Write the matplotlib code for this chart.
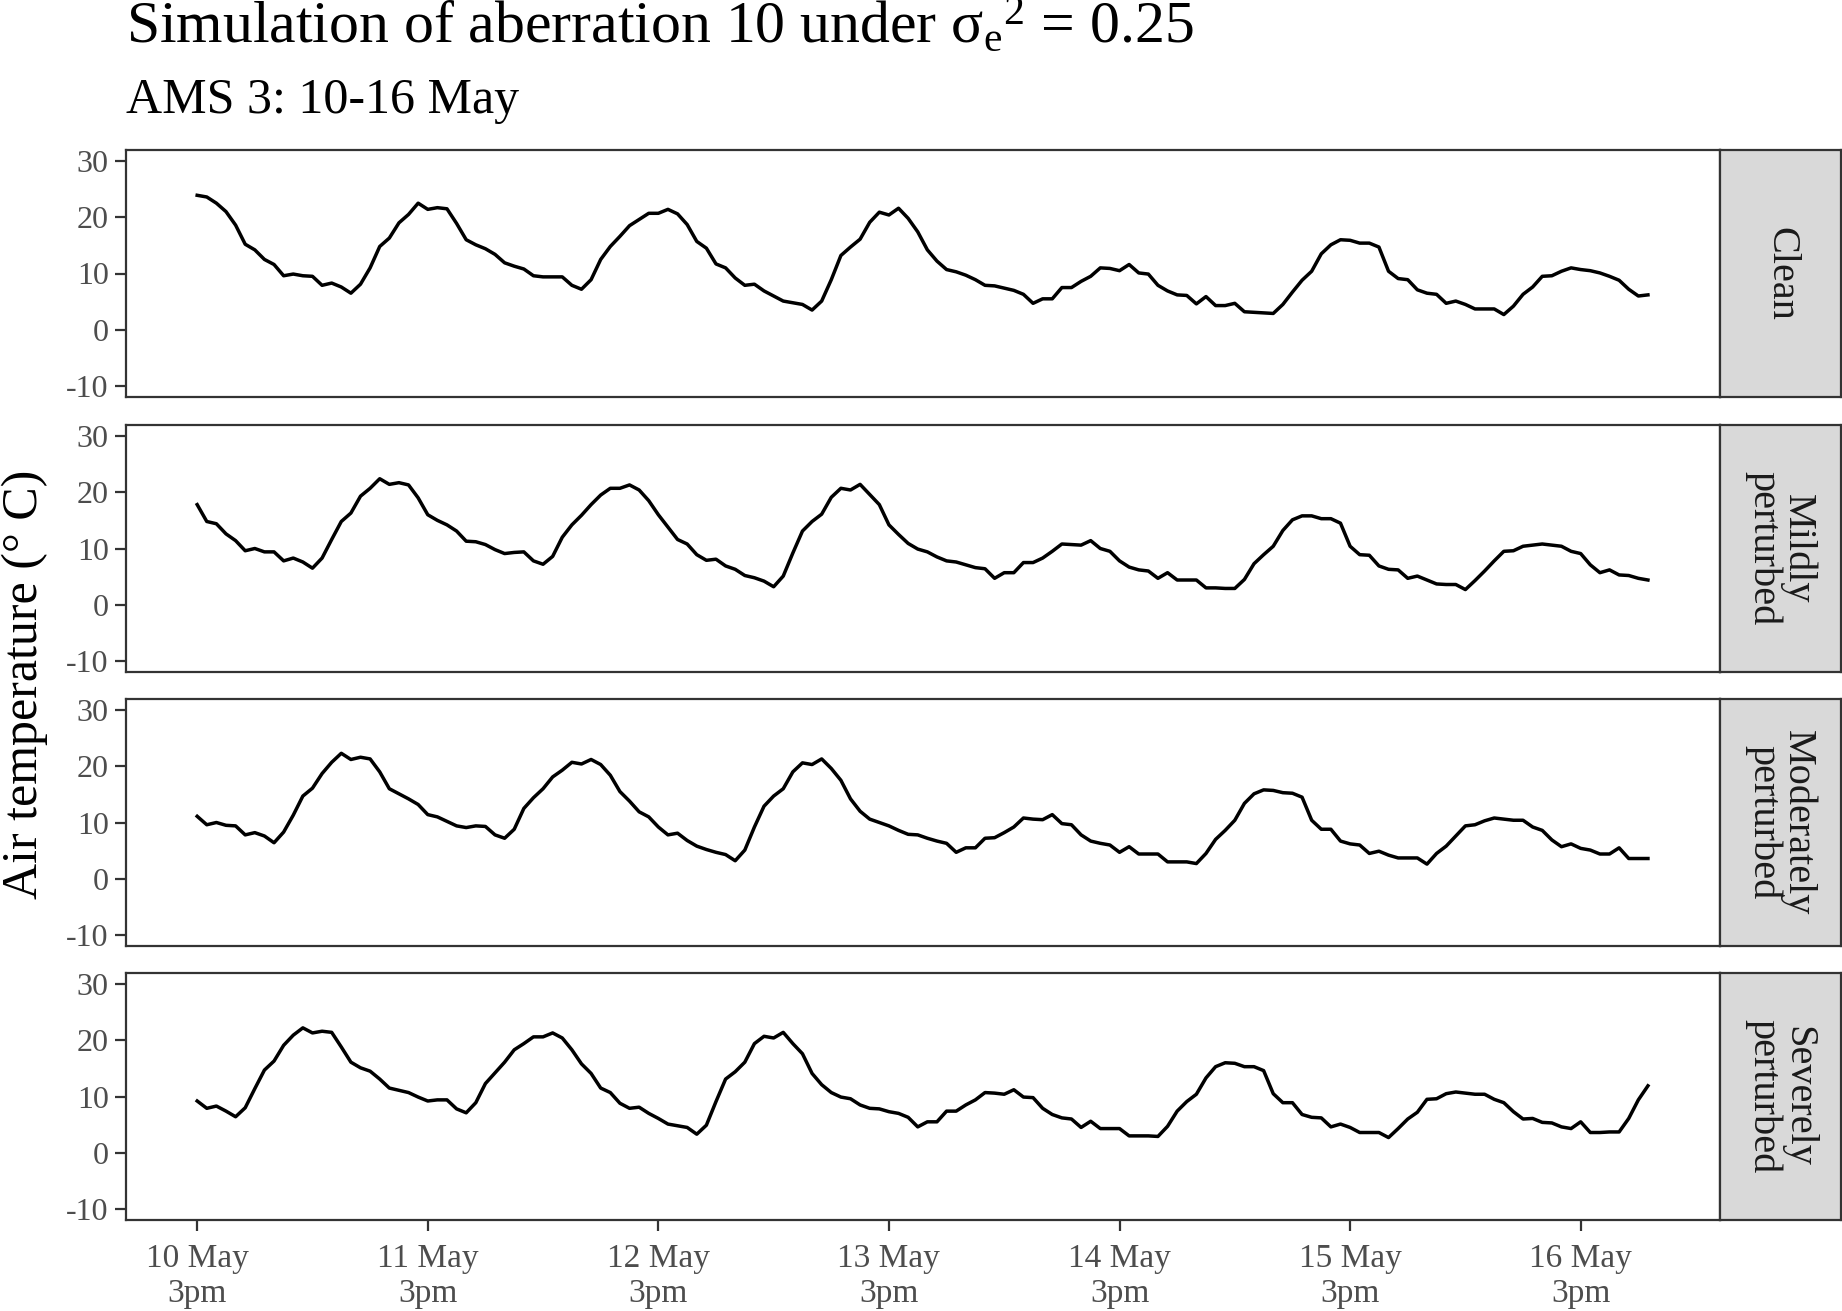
import matplotlib
matplotlib.use("Agg")
import matplotlib.pyplot as plt

plt.rcParams['font.family'] = ['Liberation Serif', 'DejaVu Serif']
plt.rcParams['mathtext.fontset'] = 'custom'
plt.rcParams['mathtext.rm'] = 'Liberation Serif'
plt.rcParams['mathtext.it'] = 'Liberation Serif:italic'
plt.rcParams['axes.unicode_minus'] = False

# hours after 10 May 3pm
hours = list(range(152))

clean = [23.9, 23.6, 22.5, 21.0, 18.6, 15.2, 14.2, 12.5, 11.6, 9.6, 9.9, 9.6,
         9.5, 7.9, 8.3, 7.6, 6.5, 8.1, 11.0, 14.8, 16.3, 19.0, 20.5, 22.5,
         21.4, 21.7, 21.5, 18.9, 16.0, 15.1, 14.4, 13.4, 11.9, 11.3, 10.8, 9.6,
         9.4, 9.4, 9.4, 7.9, 7.2, 8.9, 12.5, 14.8, 16.6, 18.5, 19.6, 20.7,
         20.7, 21.4, 20.6, 18.7, 15.7, 14.5, 11.7, 11.0, 9.2, 7.9, 8.1, 6.9,
         6.0, 5.1, 4.8, 4.5, 3.5, 5.1, 8.9, 13.2, 14.7, 16.1, 19.1, 20.9,
         20.4, 21.6, 19.8, 17.4, 14.2, 12.2, 10.7, 10.3, 9.7, 8.9, 7.9, 7.8,
         7.4, 7.0, 6.3, 4.7, 5.5, 5.5, 7.5, 7.5, 8.6, 9.5, 11.0, 10.9,
         10.5, 11.6, 10.1, 9.9, 7.9, 6.9, 6.2, 6.1, 4.6, 5.9, 4.3, 4.3,
         4.7, 3.2, 3.1, 3.0, 2.9, 4.5, 6.7, 8.8, 10.4, 13.5, 15.1, 16.0,
         15.9, 15.4, 15.4, 14.7, 10.4, 9.1, 8.9, 7.1, 6.5, 6.3, 4.7, 5.1,
         4.5, 3.7, 3.7, 3.7, 2.7, 4.2, 6.3, 7.6, 9.5, 9.6, 10.4, 11.0,
         10.7, 10.5, 10.1, 9.5, 8.8, 7.2, 6.0, 6.2]

mild = [17.8, 14.8, 14.4, 12.6, 11.4, 9.6, 10.0, 9.4, 9.4, 7.8, 8.3, 7.6,
        6.5, 8.3, 11.6, 14.8, 16.3, 19.3, 20.7, 22.4, 21.4, 21.7, 21.3, 19.0,
        16.0, 15.0, 14.2, 13.1, 11.3, 11.2, 10.7, 9.8, 9.1, 9.3, 9.4, 7.8,
        7.2, 8.6, 12.0, 14.2, 15.9, 17.8, 19.5, 20.7, 20.7, 21.3, 20.4, 18.5,
        16.0, 13.8, 11.6, 10.8, 8.9, 7.9, 8.1, 6.9, 6.3, 5.2, 4.8, 4.2,
        3.2, 5.1, 9.2, 13.1, 14.8, 16.1, 19.1, 20.7, 20.4, 21.4, 19.6, 17.8,
        14.2, 12.5, 10.9, 9.9, 9.4, 8.5, 7.8, 7.6, 7.1, 6.6, 6.4, 4.7,
        5.7, 5.7, 7.5, 7.5, 8.3, 9.5, 10.8, 10.7, 10.6, 11.4, 10.0, 9.5,
        7.8, 6.7, 6.2, 6.0, 4.7, 5.7, 4.4, 4.4, 4.4, 3.0, 3.0, 2.9,
        2.9, 4.5, 7.3, 8.9, 10.4, 13.2, 15.1, 15.8, 15.8, 15.3, 15.3, 14.5,
        10.4, 8.9, 8.8, 6.9, 6.3, 6.2, 4.7, 5.1, 4.4, 3.7, 3.6, 3.6,
        2.7, 4.3, 6.0, 7.8, 9.5, 9.6, 10.4, 10.6, 10.8, 10.6, 10.4, 9.5,
        9.1, 7.1, 5.7, 6.2, 5.3, 5.2, 4.7, 4.4]

moderate = [11.1, 9.6, 10.0, 9.5, 9.4, 7.8, 8.2, 7.6, 6.4, 8.3, 11.3, 14.7,
            16.1, 18.7, 20.7, 22.3, 21.2, 21.6, 21.3, 19.0, 16.0, 15.1, 14.2, 13.2,
            11.4, 11.0, 10.2, 9.4, 9.1, 9.4, 9.3, 7.8, 7.2, 8.8, 12.5, 14.4,
            16.0, 18.1, 19.3, 20.7, 20.4, 21.2, 20.3, 18.4, 15.5, 13.8, 11.9, 11.0,
            9.2, 7.8, 8.1, 6.8, 5.8, 5.2, 4.7, 4.3, 3.2, 5.1, 9.2, 12.9,
            14.7, 16.0, 19.0, 20.6, 20.3, 21.3, 19.6, 17.5, 14.2, 12.0, 10.6, 10.0,
            9.4, 8.6, 7.9, 7.8, 7.2, 6.7, 6.3, 4.7, 5.5, 5.5, 7.2, 7.3,
            8.2, 9.2, 10.8, 10.6, 10.5, 11.4, 9.8, 9.6, 7.8, 6.7, 6.3, 6.0,
            4.7, 5.7, 4.4, 4.4, 4.4, 3.0, 3.0, 3.0, 2.7, 4.5, 7.0, 8.6,
            10.4, 13.4, 15.1, 15.8, 15.7, 15.3, 15.2, 14.5, 10.4, 8.8, 8.8, 6.7,
            6.2, 6.0, 4.5, 4.9, 4.2, 3.7, 3.7, 3.7, 2.6, 4.5, 5.8, 7.6,
            9.4, 9.6, 10.3, 10.8, 10.6, 10.4, 10.4, 9.2, 8.6, 6.9, 5.7, 6.2,
            5.4, 5.1, 4.4, 4.4, 5.5, 3.6, 3.6, 3.6]

severe = [9.2, 7.9, 8.3, 7.4, 6.4, 8.0, 11.4, 14.7, 16.3, 19.1, 20.9, 22.2,
          21.3, 21.6, 21.4, 18.8, 16.1, 15.1, 14.5, 13.1, 11.5, 11.1, 10.7, 9.9,
          9.2, 9.4, 9.4, 7.8, 7.1, 8.9, 12.3, 14.2, 16.1, 18.3, 19.4, 20.6,
          20.6, 21.3, 20.4, 18.3, 15.8, 14.1, 11.5, 10.7, 8.8, 7.9, 8.1, 7.0,
          6.1, 5.1, 4.8, 4.5, 3.3, 4.9, 9.1, 13.1, 14.4, 16.1, 19.4, 20.7,
          20.4, 21.4, 19.4, 17.6, 14.1, 12.1, 10.7, 9.9, 9.6, 8.5, 7.9, 7.8,
          7.3, 7.0, 6.3, 4.6, 5.5, 5.5, 7.4, 7.4, 8.5, 9.4, 10.7, 10.6,
          10.4, 11.2, 9.9, 9.8, 7.9, 6.8, 6.2, 6.0, 4.5, 5.6, 4.3, 4.3,
          4.3, 3.0, 3.0, 3.0, 2.9, 4.7, 7.4, 9.1, 10.4, 13.3, 15.3, 16.0,
          15.9, 15.3, 15.3, 14.6, 10.5, 8.9, 8.9, 6.8, 6.3, 6.2, 4.6, 5.1,
          4.5, 3.6, 3.6, 3.6, 2.7, 4.3, 6.0, 7.2, 9.5, 9.6, 10.5, 10.8,
          10.6, 10.4, 10.4, 9.5, 8.9, 7.3, 6.0, 6.1, 5.4, 5.3, 4.6, 4.3,
          5.5, 3.6, 3.6, 3.7, 3.7, 6.1, 9.4, 11.9]

series = [clean, mild, moderate, severe]
strip_labels = ["Clean", "Mildly\nperturbed", "Moderately\nperturbed", "Severely\nperturbed"]
tick_hours = [0, 24, 48, 72, 96, 120, 144]
tick_labels = ["10 May\n3pm", "11 May\n3pm", "12 May\n3pm", "13 May\n3pm",
               "14 May\n3pm", "15 May\n3pm", "16 May\n3pm"]
y_ticks = [-10, 0, 10, 20, 30]

W, H = 1842, 1311
fig = plt.figure(figsize=(W / 100, H / 100), dpi=100)


def rect(x0, y0, x1, y1):
    return [x0 / W, 1 - y1 / H, (x1 - x0) / W, (y1 - y0) / H]


tops = [150, 425, 699, 973]
ph = 247
frame = '#333333'

for i, (vals, lab) in enumerate(zip(series, strip_labels)):
    top = tops[i]
    ax = fig.add_axes(rect(125.5, top, 1720, top + ph))
    ax.plot(hours, vals, color='black', lw=2.5)
    ax.set_xlim(-7.46, 158.5)
    ax.set_ylim(-11.95, 31.95)
    ax.set_yticks(y_ticks)
    ax.set_yticklabels([str(v) for v in y_ticks])
    for s in ax.spines.values():
        s.set_color(frame)
        s.set_linewidth(1.6)
    ax.tick_params(axis='y', length=8, width=1.6, color=frame,
                   labelcolor='#4D4D4D', labelsize=23, pad=4)
    if i == 3:
        ax.set_xticks(tick_hours)
        ax.set_xticklabels(tick_labels, linespacing=1.2)
        ax.tick_params(axis='x', length=8, width=1.6, color=frame,
                       labelcolor='#4D4D4D', labelsize=24, pad=9)
    else:
        ax.set_xticks([])

    sax = fig.add_axes(rect(1720, top, 1841, top + ph))
    sax.set_facecolor('#D9D9D9')
    sax.set_xticks([])
    sax.set_yticks([])
    for s in sax.spines.values():
        s.set_color(frame)
        s.set_linewidth(1.6)
    sax.text(0.5, 0.5, lab, rotation=-90, ha='center', va='center',
             fontsize=29, color='#1A1A1A', linespacing=0.9,
             transform=sax.transAxes)

fig.text(126 / W, 1 - 43 / H,
         r"Simulation of aberration 10 under σ$_\mathrm{e}$$^\mathrm{2}$ = 0.25",
         fontsize=43, va='baseline', ha='left')
fig.text(126 / W, 1 - 113 / H, "AMS 3: 10-16 May",
         fontsize=36, va='baseline', ha='left')
fig.text(25 / W, 1 - 684.5 / H, "Air temperature (° C)", rotation=90,
         fontsize=36, ha='center', va='center')

fig.savefig("out.png", dpi=100)
